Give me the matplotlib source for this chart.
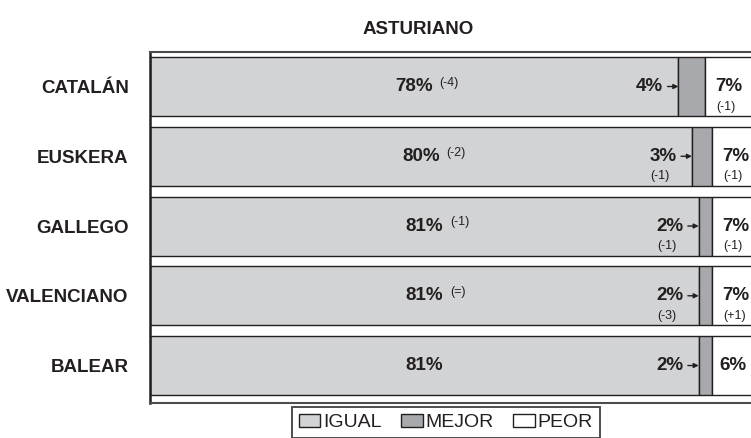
import matplotlib
matplotlib.use("Agg")
import matplotlib.pyplot as plt
from matplotlib.patches import Patch

plt.rcParams['font.family'] = ['Liberation Sans', 'DejaVu Sans']

title = "ASTURIANO"
categories = ["CATALÁN", "EUSKERA", "GALLEGO", "VALENCIANO", "BALEAR"]
igual = [78, 80, 81, 81, 81]
mejor = [4, 3, 2, 2, 2]
peor = [7, 7, 7, 7, 6]
igual_chg = ["(-4)", "(-2)", "(-1)", "(=)", ""]
mejor_chg = ["", "(-1)", "(-1)", "(-3)", ""]
peor_chg = ["(-1)", "(-1)", "(-1)", "(+1)", ""]
series_names = ["IGUAL", "MEJOR", "PEOR"]

C_IGUAL = "#d1d3d4"
C_MEJOR = "#a7a9ac"
C_PEOR = "#ffffff"
INK = "#231f20"

W, H = 751, 438
fig = plt.figure(figsize=(W / 100, H / 100), dpi=100)
ax = fig.add_axes([149.5 / W, 1 - 402.5 / H, 678 / W, (402.5 - 52) / H])

y = list(range(len(categories)))
bh = 0.846
ax.barh(y, igual, height=bh, color=C_IGUAL, edgecolor=INK, linewidth=1.0)
ax.barh(y, mejor, left=igual, height=bh, color=C_MEJOR, edgecolor=INK, linewidth=1.0)
left_p = [a + b for a, b in zip(igual, mejor)]
ax.barh(y, peor, left=left_p, height=bh, color=C_PEOR, edgecolor=INK, linewidth=1.0)

ax.set_xlim(0, 100)
ax.set_ylim(4.530, -0.4946)

for i in y:
    # IGUAL value
    t = ax.text(igual[i] / 2, i, f"{igual[i]}%", ha="center", va="center",
                fontsize=13.5, fontweight="bold", color=INK)
    if igual_chg[i]:
        ax.annotate(igual_chg[i], xy=(1, 0.72), xycoords=t, xytext=(7, 0),
                    textcoords="offset pixels", ha="left", va="center",
                    fontsize=9, color=INK)
    # MEJOR value with arrow
    ax.annotate(f"{mejor[i]}%", xy=(igual[i], i), xytext=(-15, 0),
                textcoords="offset pixels", ha="right", va="center",
                fontsize=13.5, fontweight="bold", color=INK,
                arrowprops=dict(arrowstyle="-|>", color=INK, lw=1.0,
                                shrinkA=1, shrinkB=0, mutation_scale=7))
    if mejor_chg[i]:
        ax.annotate(mejor_chg[i], xy=(igual[i], i), xytext=(-32, -20),
                    textcoords="offset pixels", ha="center", va="center",
                    fontsize=9, color=INK)
    # PEOR value
    ax.text(left_p[i] + peor[i] / 2, i, f"{peor[i]}%", ha="center", va="center",
            fontsize=13.5, fontweight="bold", color=INK)
    if peor_chg[i]:
        ax.annotate(peor_chg[i], xy=(left_p[i], i), xytext=(11, -20),
                    textcoords="offset pixels", ha="left", va="center",
                    fontsize=9, color=INK)

ax.set_yticks(y)
ax.set_yticklabels(categories, fontsize=13.5, fontweight="bold", color=INK)
ax.tick_params(axis="y", length=0, pad=15)
ax.set_xticks([])
ax.spines["right"].set_visible(False)
ax.spines["left"].set_linewidth(1.8)
ax.spines["left"].set_color(INK)
for s in ("top", "bottom"):
    ax.spines[s].set_linewidth(1.5)
    ax.spines[s].set_color("#4d4d4f")

fig.text(418 / W, 1 - 30 / H, title, ha="center", va="center",
         fontsize=13.5, fontweight="bold", color=INK)

handles = [Patch(facecolor=c, edgecolor=INK, linewidth=1.0)
           for c in (C_IGUAL, C_MEJOR, C_PEOR)]
leg = fig.legend(handles, series_names, loc="upper center", ncol=3,
                 bbox_to_anchor=(446 / W, 1 - 407 / H),
                 frameon=True, fancybox=False, edgecolor=INK,
                 fontsize=14, handlelength=1.1, handleheight=0.7,
                 handletextpad=0.15, columnspacing=1.0, borderpad=0.35,
                 borderaxespad=0)
leg.get_frame().set_linewidth(1.4)
for txt in leg.get_texts():
    txt.set_color(INK)

fig.savefig("out.png", dpi=100)
